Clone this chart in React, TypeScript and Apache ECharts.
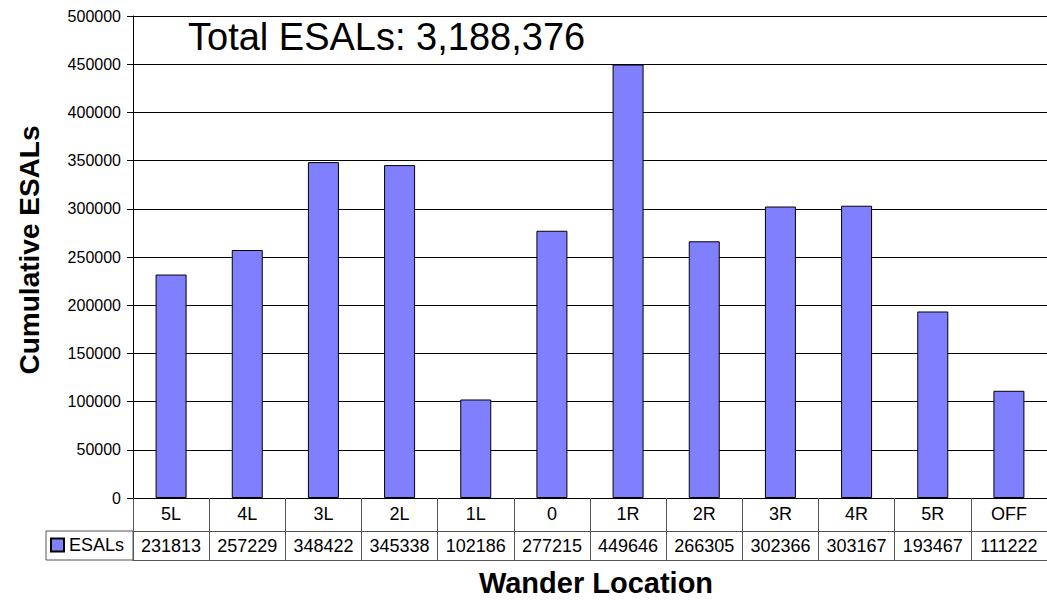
import React, { useEffect, useRef } from "react";
import * as echarts from "echarts";

const categories = ["5L", "4L", "3L", "2L", "1L", "0", "1R", "2R", "3R", "4R", "5R", "OFF"];
const esals = [231813, 257229, 348422, 345338, 102186, 277215, 449646, 266305, 302366, 303167, 193467, 111222];
const seriesName = "ESALs";
const yMin = 0;
const yMax = 500000;
const yInterval = 50000;
const yTitle = "Cumulative ESALs";
const xTitle = "Wander Location";

const FONT = "'Liberation Sans', Arial, sans-serif";

export default function App() {
  const ref = useRef<HTMLDivElement>(null);
  useEffect(() => {
    if (!ref.current) return;
    const chart = echarts.init(ref.current, undefined, { renderer: "svg" });
    const total = esals.reduce((a, b) => a + b, 0);
    const tableLine = "#555555";
    chart.setOption({
      animation: false,
      backgroundColor: "#ffffff",
      textStyle: { fontFamily: FONT, color: "#000" },
      grid: { left: 133, top: 16, width: 920, height: 482, containLabel: false },
      legend: {
        data: [seriesName],
        left: 50,
        top: 536,
        padding: 0,
        itemWidth: 13,
        itemHeight: 13,
        itemGap: 5,
        icon: "rect",
        textStyle: { fontSize: 18, fontFamily: FONT, color: "#000", padding: [0, 0, 0, 0] },
      },
      xAxis: [
        {
          type: "category",
          data: categories,
          position: "bottom",
          boundaryGap: true,
          axisLine: { show: true, lineStyle: { color: "#000", width: 1 } },
          axisTick: { show: true, interval: 0, length: 62, inside: false, lineStyle: { color: tableLine } },
          axisLabel: { interval: 0, fontSize: 18, fontFamily: FONT, color: "#000", margin: 7 },
          splitLine: { show: false },
        },
        {
          type: "category",
          data: esals.map((v) => String(v)),
          position: "bottom",
          offset: 33,
          boundaryGap: true,
          axisLine: { show: true, lineStyle: { color: tableLine, width: 1 } },
          axisTick: { show: false },
          axisLabel: { interval: 0, fontSize: 18, fontFamily: FONT, color: "#000", margin: 6 },
          splitLine: { show: false },
        },
        {
          type: "category",
          data: categories,
          position: "bottom",
          offset: 62,
          boundaryGap: true,
          axisLine: { show: true, lineStyle: { color: tableLine, width: 1 } },
          axisTick: { show: false },
          axisLabel: { show: false },
          splitLine: { show: false },
        },
      ],
      yAxis: {
        type: "value",
        min: yMin,
        max: yMax,
        interval: yInterval,
        axisLine: { show: true, lineStyle: { color: "#000", width: 1 } },
        axisTick: { show: true, length: 6, inside: false, lineStyle: { color: "#000" } },
        axisLabel: {
          fontSize: 16,
          fontFamily: FONT,
          color: "#000",
          margin: 12,
          formatter: (v: number) => String(v),
        },
        splitLine: { show: true, lineStyle: { color: "#000", width: 1, type: "solid" } },
      },
      series: [
        {
          name: seriesName,
          type: "bar",
          xAxisIndex: 0,
          data: esals,
          barWidth: 31,
          itemStyle: { color: "#8080FF", borderColor: "#000", borderWidth: 1 },
        },
      ],
      graphic: [
        {
          type: "rect",
          shape: { x: 46, y: 531, width: 87, height: 29 },
          style: { fill: "none", stroke: tableLine, lineWidth: 1 },
          silent: true,
        },
        {
          type: "text",
          x: 188,
          y: 37,
          style: {
            text: "Total ESALs: " + total.toLocaleString("en-US"),
            fontSize: 38,
            fontFamily: FONT,
            fill: "#000",
            align: "left",
            verticalAlign: "middle",
          },
        },
        {
          type: "text",
          x: 29,
          y: 250,
          rotation: Math.PI / 2,
          style: {
            text: yTitle,
            fontSize: 28,
            fontWeight: "bold",
            fontFamily: FONT,
            fill: "#000",
            align: "center",
            verticalAlign: "middle",
          },
        },
        {
          type: "text",
          x: 596,
          y: 583,
          style: {
            text: xTitle,
            fontSize: 29,
            fontWeight: "bold",
            fontFamily: FONT,
            fill: "#000",
            align: "center",
            verticalAlign: "middle",
          },
        },
      ],
    });
    return () => chart.dispose();
  }, []);
  return (
    <div
      ref={ref}
      style={{ position: "absolute", left: 0, top: 0, width: 1047, height: 600, overflow: "hidden", background: "#fff" }}
    />
  );
}
